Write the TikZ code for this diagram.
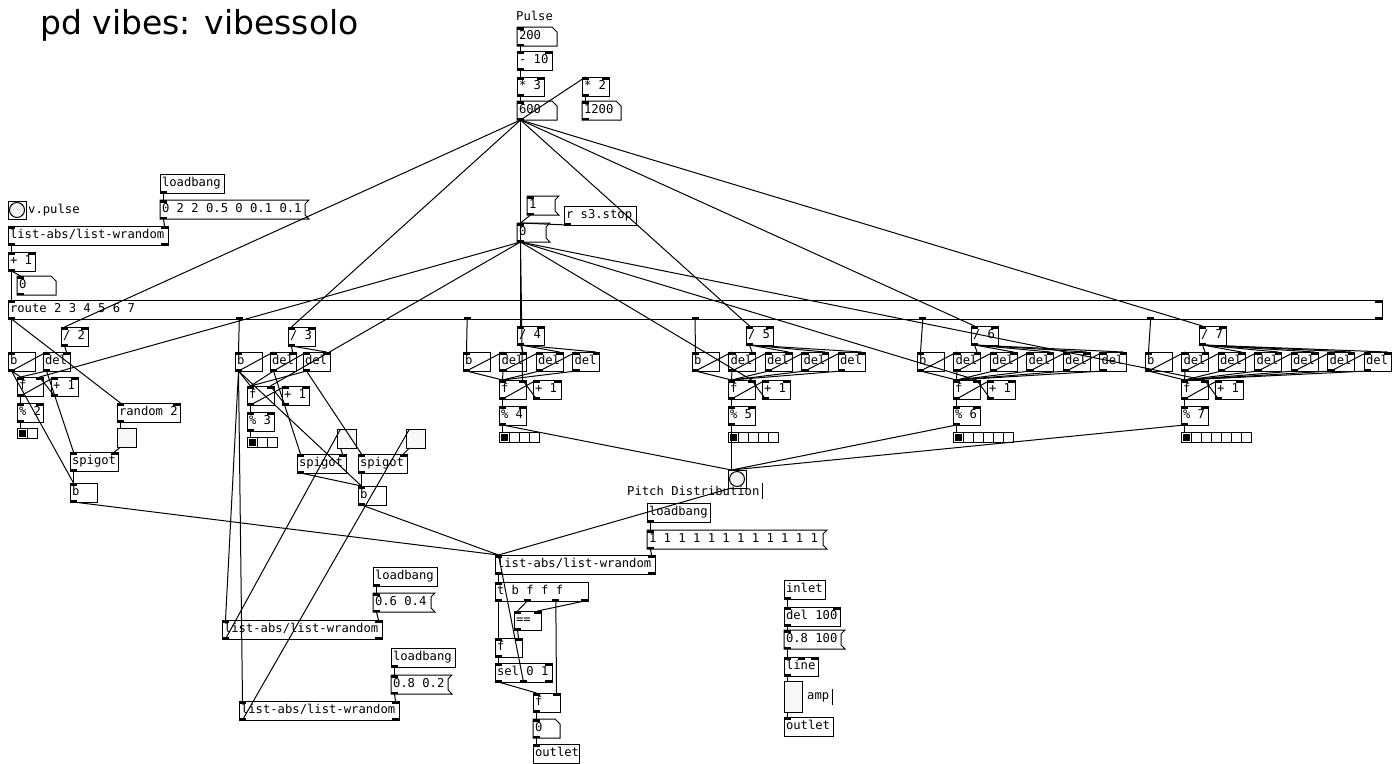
\documentclass[tikz,border=0pt]{standalone}
\usepackage{fontspec}
\setmonofont{DejaVu Sans Mono}
\newfontfamily\titlefont{DejaVu Sans}
\usetikzlibrary{calc}

\newcommand\pdfont{\ttfamily\fontsize{12.2}{14}\selectfont}

% dark inlet / outlet tabs of a box
\newcommand\pdtabs[3]{%
  \ifnum#2>0\relax
    \foreach \pk in {1,...,#2}{%
      \ifnum#2=1 \def\pf{0}\else\pgfmathsetmacro\pf{(\pk-1)/(#2-1)}\fi
      \fill ($(#1.north west)!\pf!(#1.north east)+(-\pf*7pt,0pt)$) rectangle ++(7pt,-2.5pt);
    }%
  \fi
  \ifnum#3>0\relax
    \foreach \pk in {1,...,#3}{%
      \ifnum#3=1 \def\pf{0}\else\pgfmathsetmacro\pf{(\pk-1)/(#3-1)}\fi
      \fill ($(#1.south west)!\pf!(#1.south east)+(-\pf*7pt,0pt)$) rectangle ++(7pt,2.5pt);
    }%
  \fi}

% patch cord: outlet at fraction #2 of #1 -> inlet at fraction #4 of #3
\newcommand\wire[4]{\draw[wire]
  ($(#1.south west)!#2!(#1.south east)+(3.5pt-#2*7pt,0pt)$) --
  ($(#3.north west)!#4!(#3.north east)+(3.5pt-#4*7pt,0pt)$);}

\tikzset{
  pdbox/.style={draw, line width=1pt, outer sep=0pt, inner sep=0pt, anchor=north west,
    minimum height=19pt, minimum width=#1pt, font=\pdfont, text height=9pt, text depth=3pt,
    execute at begin node={\hbox to #1pt\bgroup\hskip2pt}, execute at end node={\hfil\egroup}},
  msg/.style={pdbox=#1, draw=none, append after command={\pgfextra{\draw[line width=1pt]
    (\tikzlastnode.north west) -- ([xshift=4pt]\tikzlastnode.north east)
    -- ([yshift=-4pt]\tikzlastnode.north east) -- ([yshift=4pt]\tikzlastnode.south east)
    -- ([xshift=4pt]\tikzlastnode.south east) -- (\tikzlastnode.south west) -- cycle;}}},
  atom/.style={pdbox=#1, draw=none, append after command={\pgfextra{\draw[line width=1pt]
    (\tikzlastnode.north west) -- ([xshift=-5pt]\tikzlastnode.north east)
    -- ([yshift=-5pt]\tikzlastnode.north east) -- (\tikzlastnode.south east)
    -- (\tikzlastnode.south west) -- cycle;}}},
  io/.style 2 args={append after command={\pgfextra{\pdtabs{\tikzlastnode}{#1}{#2}}}},
  tgl/.style={draw, line width=1pt, fill=gray!6, outer sep=0pt, inner sep=0pt,
    anchor=north west, minimum width=19pt, minimum height=19pt},
  bng/.style={tgl, fill=white, minimum width=18pt, minimum height=18pt,
    path picture={\draw[line width=1pt, fill=gray!10] (path picture bounding box.center) circle (7.5pt);}},
  vsl/.style={tgl, minimum width=18pt, minimum height=31pt,
    path picture={\fill ([yshift=1pt]path picture bounding box.south west)
      rectangle ([yshift=4pt]path picture bounding box.south east);}},
  radio/.style={draw, line width=1pt, outer sep=0pt, inner sep=0pt, anchor=north west,
    minimum width=#1*10pt, minimum height=10pt,
    path picture={\fill ([shift={(1.5pt,-1.5pt)}]path picture bounding box.north west) rectangle ++(7pt,-7pt);
      \foreach \cc in {1,...,#1}{\draw[line width=1pt] ([xshift=\cc*10pt]path picture bounding box.north west) -- ++(0pt,-10pt);}}},
  cmt/.style={font=\pdfont, inner sep=0pt, anchor=west},
  wire/.style={line width=1pt},
}

\begin{document}
\begin{tikzpicture}[x=1pt, y=-1pt]
\useasboundingbox (0,0) rectangle (1392,763);

\node[font=\titlefont\fontsize{33}{38}\selectfont, anchor=base west, inner sep=0pt] (title) at (40,34) {pd vibes: vibessolo};

% pulse
\node[cmt] (lblpulse) at (516,16) {Pulse};
\node[atom=40, io={1}{1}] (n200) at (517,27) {200};
\node[pdbox=35, io={2}{1}] (sub10) at (517,51) {- 10};
\node[pdbox=27, io={2}{1}] (mul3) at (517,77) {* 3};
\node[pdbox=27, io={2}{1}] (mul2) at (582,77) {* 2};
\node[atom=40, io={1}{1}] (n600) at (517,101) {600};
\node[atom=39, io={1}{1}] (n1200) at (582,101) {1200};

% stop
\node[msg=28, io={1}{1}] (msg1) at (527,196) {1};
\node[pdbox=72, io={0}{1}] (rstop) at (564,206) {r s3.stop};
\node[msg=29, io={1}{1}] (stopmsg) at (517,223) {0};

% weights and route
\node[pdbox=64, io={0}{1}] (lb1) at (160,174) {loadbang};
\node[msg=145, io={1}{1}] (m1) at (160,200) {0 2 2 0.5 0 0.1 0.1};
\node[bng] (vpulse) at (8,201) {};
\node[cmt] (lblvpulse) at (28,210) {v.pulse};
\node[pdbox=160, io={2}{2}] (lw1) at (8,226) {list-abs/list-wrandom};
\node[pdbox=27, io={2}{1}] (add1) at (8,252) {+ 1};
\node[atom=39, io={1}{1}] (n0a) at (17,276) {0};
\node[pdbox=1374, io={2}{7}] (route) at (8,300) {route 2 3 4 5 6 7};

% 2
\node[pdbox=27, io={2}{1}] (div2) at (61,327) {/ 2};
\node[pdbox=27, io={1}{1}] (b2) at (8,352) {b};
\node[pdbox=27, io={2}{1}] (del2-1) at (43,352) {del};
\node[pdbox=26, io={2}{1}] (f2) at (17,377) {f};
\node[pdbox=27, io={2}{1}] (add2) at (51,377) {+ 1};
\node[pdbox=26, io={2}{1}] (mod2) at (17,403) {\% 2};
\node[radio=2] (radio2) at (17,428) {};
\node[pdbox=63, io={2}{1}] (rnd2) at (117,403) {random 2};
\node[tgl, io={1}{1}] (tgl2) at (117,428) {};
\node[pdbox=48, io={2}{1}] (spig2) at (70,452) {spigot};
\node[pdbox=27, io={1}{1}] (bo2) at (70,483) {b};

% 3
\node[pdbox=27, io={2}{1}] (div3) at (288,327) {/ 3};
\node[pdbox=27, io={1}{1}] (b3) at (235,352) {b};
\node[pdbox=26, io={2}{1}] (del3-1) at (270,352) {del};
\node[pdbox=27, io={2}{1}] (del3-2) at (303,352) {del};
\node[pdbox=27, io={2}{1}] (f3) at (247,386) {f};
\node[pdbox=27, io={2}{1}] (add3) at (282,386) {+ 1};
\node[pdbox=27, io={2}{1}] (mod3) at (247,412) {\% 3};
\node[radio=3] (radio3) at (247,437) {};
\node[tgl, io={1}{1}] (tgl3a) at (337,429) {};
\node[tgl, io={1}{1}] (tgl3b) at (406,429) {};
\node[pdbox=49, io={2}{1}] (spig3a) at (297,454) {spigot};
\node[pdbox=49, io={2}{1}] (spig3b) at (358,454) {spigot};
\node[pdbox=28, io={1}{1}] (bo3) at (358,486) {b};

% 4 to 7
\foreach \k/\bx in {4/463, 5/692, 6/917, 7/1145}{
  \pgfmathtruncatemacro\nd{\k-1}
  \node[pdbox=27, io={1}{1}] (b\k) at (\bx,352) {b};
  \node[pdbox=27, io={2}{1}] (div\k) at (\bx+54,326) {/ \k};
  \foreach \i in {1,...,\nd}
    \node[pdbox=27, io={2}{1}] (del\k-\i) at (\bx+36.5*\i,352) {del};
  \node[pdbox=27, io={2}{1}] (f\k) at (\bx+36,380) {f};
  \node[pdbox=28, io={2}{1}] (add\k) at (\bx+70,380) {+ 1};
  \node[pdbox=27, io={2}{1}] (mod\k) at (\bx+36,406) {\% \k};
  \node[radio=\k] (radio\k) at (\bx+36,432) {};
}

% pitch choice
\node[bng, io={1}{1}] (pitch) at (728,470) {};
\node[cmt] (lblpitch) at (627,491) {Pitch Distribution};
\draw[line width=1pt] ([xshift=3pt,yshift=3pt]lblpitch.north east) -- ([xshift=3pt,yshift=-3pt]lblpitch.south east);
\node[pdbox=63, io={0}{1}] (lb2) at (647,503) {loadbang};
\node[msg=176, io={1}{1}] (m2) at (647,530) {1 1 1 1 1 1 1 1 1 1 1 1};
\node[pdbox=160, io={2}{2}] (lw2) at (495,555) {list-abs/list-wrandom};
\node[pdbox=93, io={1}{4}] (tbfff) at (495,582) {t b f f f};
\node[pdbox=27, io={2}{1}] (eq) at (514,611) {==};
\node[pdbox=27, io={2}{1}] (fh) at (495,638) {f};
\node[pdbox=57, io={2}{3}] (sel) at (495,663) {sel 0 1};
\node[pdbox=27, io={2}{1}] (fo) at (533,693) {f};
\node[atom=27, io={1}{1}] (nout) at (533,719) {0};
\node[pdbox=46, io={1}{0}] (outl1) at (533,744) {outlet};

\node[pdbox=64, io={0}{1}] (lb3) at (373,567) {loadbang};
\node[msg=58, io={1}{1}] (m3) at (373,593) {0.6 0.4};
\node[pdbox=160, io={2}{2}] (lw3) at (222,620) {list-abs/list-wrandom};
\node[pdbox=64, io={0}{1}] (lb4) at (391,648) {loadbang};
\node[msg=57, io={1}{1}] (m4) at (391,675) {0.8 0.2};
\node[pdbox=160, io={2}{2}] (lw4) at (239,701) {list-abs/list-wrandom};

% amp
\node[pdbox=41, io={0}{1}] (inl) at (784,580) {inlet};
\node[pdbox=56, io={2}{1}] (del100) at (784,607) {del 100};
\node[msg=57, io={1}{1}] (m5) at (784,630) {0.8 100};
\node[pdbox=34, io={3}{1}] (lineobj) at (784,657) {line};
\node[vsl, io={1}{1}] (ampsl) at (784,681) {};
\node[cmt] (lblamp) at (807,697) {amp};
\draw[line width=1pt] ([xshift=3pt,yshift=3pt]lblamp.north east) -- ([xshift=3pt,yshift=-3pt]lblamp.south east);
\node[pdbox=49, io={1}{0}] (outl2) at (784,717) {outlet};

% cords
\wire{n200}{0}{sub10}{0}
\wire{sub10}{0}{mul3}{0}
\wire{mul3}{0}{n600}{0}
\wire{n600}{0}{mul2}{0}
\wire{mul2}{0}{n1200}{0}
\wire{msg1}{0}{stopmsg}{0}
\wire{rstop}{0}{stopmsg}{0}
\wire{lb1}{0}{m1}{0}
\wire{m1}{0}{lw1}{1}
\wire{lw1}{0}{add1}{0}
\wire{add1}{0}{n0a}{0}
\wire{add1}{0}{route}{0}

\wire{route}{0}{b2}{0}
\wire{route}{0}{rnd2}{0}
\wire{n600}{0}{div2}{0}
\wire{stopmsg}{0}{f2}{1}
\wire{div2}{0}{del2-1}{1}
\wire{b2}{0}{del2-1}{0}
\wire{b2}{0}{f2}{0}
\wire{del2-1}{0}{f2}{0}
\wire{f2}{0}{add2}{0}
\wire{add2}{0}{f2}{1}
\wire{f2}{0}{mod2}{0}
\wire{mod2}{0}{radio2}{0}
\wire{rnd2}{0}{tgl2}{0}
\wire{tgl2}{0}{spig2}{1}
\wire{del2-1}{0}{spig2}{0}
\wire{b2}{0}{bo2}{0}
\wire{spig2}{0}{bo2}{0}
\wire{bo2}{0}{lw2}{0}

\wire{route}{1/6}{b3}{0}
\wire{n600}{0}{div3}{0}
\wire{stopmsg}{0}{f3}{1}
\wire{div3}{0}{del3-1}{1}
\wire{div3}{0}{del3-2}{1}
\wire{b3}{0}{del3-1}{0}
\wire{del3-1}{0}{del3-2}{0}
\wire{b3}{0}{f3}{0}
\wire{del3-1}{0}{f3}{0}
\wire{del3-2}{0}{f3}{0}
\wire{f3}{0}{add3}{0}
\wire{add3}{0}{f3}{1}
\wire{f3}{0}{mod3}{0}
\wire{mod3}{0}{radio3}{0}
\wire{b3}{0}{lw3}{0}
\wire{b3}{0}{lw4}{0}
\wire{lb3}{0}{m3}{0}
\wire{m3}{0}{lw3}{1}
\wire{lb4}{0}{m4}{0}
\wire{m4}{0}{lw4}{1}
\wire{lw3}{0}{tgl3a}{0}
\wire{lw4}{0}{tgl3b}{0}
\wire{tgl3a}{0}{spig3a}{1}
\wire{tgl3b}{0}{spig3b}{1}
\wire{del3-1}{0}{spig3a}{0}
\wire{del3-2}{0}{spig3b}{0}
\wire{spig3a}{0}{bo3}{0}
\wire{spig3b}{0}{bo3}{0}
\wire{b3}{0}{bo3}{0}
\wire{bo3}{0}{lw2}{0}

\foreach \k in {4,...,7}{
  \pgfmathtruncatemacro\nd{\k-1}
  \pgfmathsetmacro\rf{(\k-2)/6}
  \wire{route}{\rf}{b\k}{0}
  \wire{n600}{0}{div\k}{0}
  \wire{stopmsg}{0}{f\k}{1}
  \wire{b\k}{0}{del\k-1}{0}
  \wire{b\k}{0}{f\k}{0}
  \foreach \i in {1,...,\nd}{
    \wire{div\k}{0}{del\k-\i}{1}
    \wire{del\k-\i}{0}{f\k}{0}
  }
  \foreach \i in {2,...,\nd}{
    \pgfmathtruncatemacro\ip{\i-1}
    \wire{del\k-\ip}{0}{del\k-\i}{0}
  }
  \wire{f\k}{0}{add\k}{0}
  \wire{add\k}{0}{f\k}{1}
  \wire{f\k}{0}{mod\k}{0}
  \wire{mod\k}{0}{radio\k}{0}
  \wire{mod\k}{0}{pitch}{0}
}

\wire{pitch}{0}{lw2}{0}
\wire{lb2}{0}{m2}{0}
\wire{m2}{0}{lw2}{1}
\wire{lw2}{0}{tbfff}{0}
\wire{tbfff}{0}{fh}{0}
\wire{tbfff}{1/3}{eq}{0}
\wire{tbfff}{1}{eq}{1}
\wire{tbfff}{2/3}{fo}{1}
\wire{eq}{0}{fh}{1}
\wire{fh}{0}{sel}{0}
\wire{sel}{0}{fo}{0}
\wire{sel}{0.5}{lw2}{0}
\wire{fo}{0}{nout}{0}
\wire{nout}{0}{outl1}{0}

\wire{inl}{0}{del100}{0}
\wire{del100}{0}{m5}{0}
\wire{m5}{0}{lineobj}{0}
\wire{lineobj}{0}{ampsl}{0}
\wire{ampsl}{0}{outl2}{0}
\end{tikzpicture}
\end{document}
